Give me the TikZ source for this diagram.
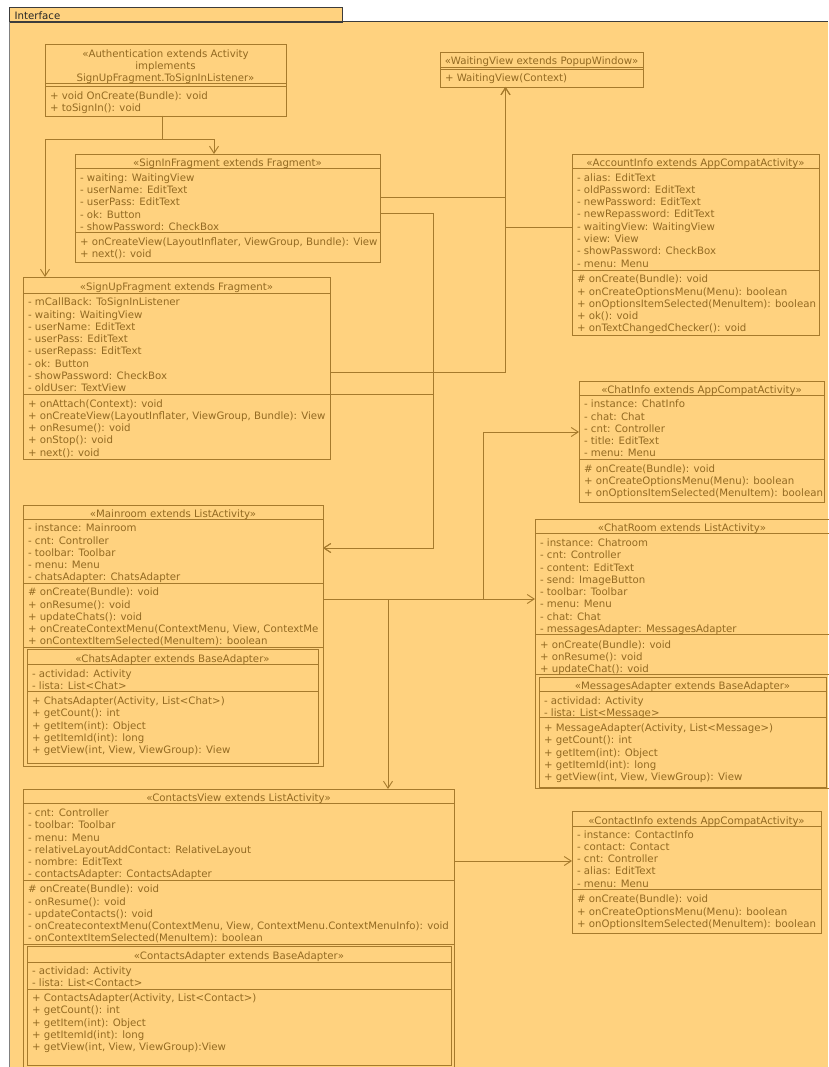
\documentclass[tikz,border=0pt]{standalone}
\usepackage{fontspec}
\setmainfont{DejaVu Sans}
\usetikzlibrary{arrows.meta}

\definecolor{umlfill}{HTML}{FFD27F}
\definecolor{umlline}{HTML}{A67A2C}
\definecolor{umltext}{HTML}{936A22}
\definecolor{framegray}{HTML}{808080}
\definecolor{framedark}{HTML}{3C3C3C}

\tikzset{
  clsbox/.style={draw=umlline, line width=0.9pt, inner sep=0pt, outer sep=0pt, anchor=north west},
  sepline/.style={draw=umlline, line width=0.9pt},
  txt/.style={text=umltext, font=\fontsize{10.2}{12.3}\selectfont, inner sep=0pt, outer sep=0pt, align=left, anchor=north west},
  ttl/.style={txt, align=center, anchor=north},
  assoc/.style={draw=umlline, line width=0.9pt, -{Straight Barb[length=7pt,width=9pt]}},
}

% class box: name, left, top, right, bottom
\newcommand\umlbox[5]{\node[clsbox, minimum width={#4pt-#2pt}, minimum height={#5pt-#3pt}] (#1) at (#2,#3) {};}
% compartment separator across a box at a given y
\newcommand\usep[2]{\draw[sepline] (#1.west |- 0,#2) -- (#1.east |- 0,#2);}
% centred title: name, centre x, first baseline, text
\newcommand\utitle[4]{\node[ttl] (#1) at (#2,#3-8.61) {\strut #4};}
% left aligned member lines: name, x, first baseline, text
\newcommand\ulines[4]{\node[txt] (#1) at (#2,#3-8.61) {\strut #4};}

\begin{document}
\begin{tikzpicture}[x=1pt,y=-1pt]
\useasboundingbox (0,0) rectangle (828,1067);

% package frame with its tab
\fill[umlfill] (9,22) rectangle (828,1067);
\node[draw=framedark, fill=umlfill, line width=0.8pt, inner sep=0pt, outer sep=0pt,
      minimum width=333pt, minimum height=15pt, anchor=north west] (tab) at (9,7) {};
\node[anchor=base west, inner sep=0pt, text=black!85, font=\fontsize{10.2}{12.3}\selectfont] (tablabel) at (14.5,19.5) {Interface};
\draw[framedark, line width=1pt] (9,22) -- (828,22);
\draw[framegray, line width=1.6pt] (9.6,22) -- (9.6,1067);

% Authentication
\umlbox{auth}{45}{44}{286}{116}
\usep{auth}{83}\usep{auth}{86}
\utitle{authT}{165.5}{57.4}{«Authentication extends Activity\\implements\\SignUpFragment.ToSignInListener»}
\ulines{authM}{50}{99.5}{+ void OnCreate(Bundle): void\\+ toSignIn(): void}

% WaitingView
\umlbox{waiting}{440}{52}{643}{87}
\usep{waiting}{67}\usep{waiting}{69.5}
\utitle{waitingT}{541.5}{64.5}{«WaitingView extends PopupWindow»}
\ulines{waitingM}{445}{81.5}{+ WaitingView(Context)}

% SignInFragment
\umlbox{signin}{75}{154}{380}{262}
\usep{signin}{168.3}\usep{signin}{232}
\utitle{signinT}{227.5}{166.6}{«SignInFragment extends Fragment»}
\ulines{signinA}{80}{181.4}{- waiting: WaitingView\\- userName: EditText\\- userPass: EditText\\- ok: Button\\- showPassword: CheckBox}
\ulines{signinM}{80}{245.4}{+ onCreateView(LayoutInflater, ViewGroup, Bundle): View\\+ next(): void}

% SignUpFragment
\umlbox{signup}{23}{277}{330}{459}
\usep{signup}{293}\usep{signup}{394}
\utitle{signupT}{176.5}{290.4}{«SignUpFragment extends Fragment»}
\ulines{signupA}{28}{305.7}{- mCallBack: ToSignInListener\\- waiting: WaitingView\\- userName: EditText\\- userPass: EditText\\- userRepass: EditText\\- ok: Button\\- showPassword: CheckBox\\- oldUser: TextView}
\ulines{signupM}{28}{407}{+ onAttach(Context): void\\+ onCreateView(LayoutInflater, ViewGroup, Bundle): View\\+ onResume(): void\\+ onStop(): void\\+ next(): void}

% AccountInfo
\umlbox{account}{572}{154}{819}{335}
\usep{account}{168}\usep{account}{270}
\utitle{accountT}{695.5}{166.6}{«AccountInfo extends AppCompatActivity»}
\ulines{accountA}{577}{181}{- alias: EditText\\- oldPassword: EditText\\- newPassword: EditText\\- newRepassword: EditText\\- waitingView: WaitingView\\- view: View\\- showPassword: CheckBox\\- menu: Menu}
\ulines{accountM}{577}{282.7}{\# onCreate(Bundle): void\\+ onCreateOptionsMenu(Menu): boolean\\+ onOptionsItemSelected(MenuItem): boolean\\+ ok(): void\\+ onTextChangedChecker(): void}

% ChatInfo
\umlbox{chatinfo}{579}{381}{824}{502}
\usep{chatinfo}{395}\usep{chatinfo}{459}
\utitle{chatinfoT}{701.5}{393}{«ChatInfo extends AppCompatActivity»}
\ulines{chatinfoA}{584}{407.7}{- instance: ChatInfo\\- chat: Chat\\- cnt: Controller\\- title: EditText\\- menu: Menu}
\ulines{chatinfoM}{584}{472}{\# onCreate(Bundle): void\\+ onCreateOptionsMenu(Menu): boolean\\+ onOptionsItemSelected(MenuItem): boolean}

% Mainroom with its nested ChatsAdapter
\umlbox{mainroom}{23}{505}{323}{766}
\usep{mainroom}{519}\usep{mainroom}{583}\usep{mainroom}{647}
\utitle{mainroomT}{173}{517.7}{«Mainroom extends ListActivity»}
\ulines{mainroomA}{28}{531.7}{- instance: Mainroom\\- cnt: Controller\\- toolbar: Toolbar\\- menu: Menu\\- chatsAdapter: ChatsAdapter}
\begin{scope}
  \clip (mainroom.north west) rectangle (mainroom.south east);
  \ulines{mainroomM}{28}{595.7}{\# onCreate(Bundle): void\\+ onResume(): void\\+ updateChats(): void\\+ onCreateContextMenu(ContextMenu, View, ContextMe\\+ onContextItemSelected(MenuItem): boolean}
\end{scope}
\umlbox{chatsad}{27}{649}{318}{763}
\usep{chatsad}{664}\usep{chatsad}{691}
\utitle{chatsadT}{172.5}{662.4}{«ChatsAdapter extends BaseAdapter»}
\ulines{chatsadA}{32}{677}{- actividad: Activity\\- lista: List<Chat>}
\ulines{chatsadM}{32}{704.4}{+ ChatsAdapter(Activity, List<Chat>)\\+ getCount(): int\\+ getItem(int): Object\\+ getItemId(int): long\\+ getView(int, View, ViewGroup): View}

% ChatRoom with its nested MessagesAdapter
\umlbox{chatroom}{535}{519}{829}{788}
\usep{chatroom}{533}\usep{chatroom}{634}\usep{chatroom}{674}
\utitle{chatroomT}{682}{531.7}{«ChatRoom extends ListActivity»}
\ulines{chatroomA}{540}{546.4}{- instance: Chatroom\\- cnt: Controller\\- content: EditText\\- send: ImageButton\\- toolbar: Toolbar\\- menu: Menu\\- chat: Chat\\- messagesAdapter: MessagesAdapter}
\ulines{chatroomM}{540}{648}{+ onCreate(Bundle): void\\+ onResume(): void\\+ updateChat(): void}
\umlbox{msgad}{539}{677}{826}{787}
\usep{msgad}{691}\usep{msgad}{717}
\utitle{msgadT}{682.5}{689.4}{«MessagesAdapter extends BaseAdapter»}
\ulines{msgadA}{544}{704.4}{- actividad: Activity\\- lista: List<Message>}
\ulines{msgadM}{544}{731.4}{+ MessageAdapter(Activity, List<Message>)\\+ getCount(): int\\+ getItem(int): Object\\+ getItemId(int): long\\+ getView(int, View, ViewGroup): View}

% ContactsView with its nested ContactsAdapter
\umlbox{contacts}{23}{789}{454}{1068}
\usep{contacts}{803}\usep{contacts}{880}\usep{contacts}{944}
\utitle{contactsT}{238.5}{801.4}{«ContactsView extends ListActivity»}
\ulines{contactsA}{28}{816.4}{- cnt: Controller\\- toolbar: Toolbar\\- menu: Menu\\- relativeLayoutAddContact: RelativeLayout\\- nombre: EditText\\- contactsAdapter: ContactsAdapter}
\ulines{contactsM}{28}{892.7}{\# onCreate(Bundle): void\\- onResume(): void\\- updateContacts(): void\\- onCreatecontextMenu(ContextMenu, View, ContextMenu.ContextMenuInfo): void\\- onContextItemSelected(MenuItem): boolean}
\umlbox{contad}{27}{946}{451}{1065}
\usep{contad}{962}\usep{contad}{989}
\utitle{contadT}{239}{959.7}{«ContactsAdapter extends BaseAdapter»}
\ulines{contadA}{32}{974.4}{- actividad: Activity\\- lista: List<Contact>}
\ulines{contadM}{32}{1001.4}{+ ContactsAdapter(Activity, List<Contact>)\\+ getCount(): int\\+ getItem(int): Object\\+ getItemId(int): long\\+ getView(int, View, ViewGroup):View}

% ContactInfo
\umlbox{contactinfo}{572}{811}{821}{933}
\usep{contactinfo}{826}\usep{contactinfo}{889}
\utitle{contactinfoT}{696.5}{824.4}{«ContactInfo extends AppCompatActivity»}
\ulines{contactinfoA}{577}{838}{- instance: ContactInfo\\- contact: Contact\\- cnt: Controller\\- alias: EditText\\- menu: Menu}
\ulines{contactinfoM}{577}{902.7}{\# onCreate(Bundle): void\\+ onCreateOptionsMenu(Menu): boolean\\+ onOptionsItemSelected(MenuItem): boolean}

% routing columns of the associations
\coordinate (cAuth) at (162,139);
\coordinate (cIn) at (214,0);
\coordinate (cUp) at (45,0);
\coordinate (cWait) at (505.5,0);
\coordinate (cMain) at (433,0);
\coordinate (cChat) at (483,0);
\coordinate (cCont) at (388,0);

% associations
\draw[assoc] (auth.south -| cAuth) -- (cAuth) -| (signin.north -| cIn);
\draw[assoc] (auth.south -| cAuth) -- (cAuth) -| (signup.north -| cUp);
\draw[assoc] (signin.east |- 0,197) -| (waiting.south -| cWait);
\draw[assoc] (account.west |- 0,227) -| (waiting.south -| cWait);
\draw[assoc] (signup.east |- 0,372) -| (waiting.south -| cWait);
\draw[assoc] (signin.east |- 0,213) -| (cMain |- 0,548) -- (mainroom.east |- 0,548);
\draw[assoc] (signup.east |- 0,394) -| (cMain |- 0,548) -- (mainroom.east |- 0,548);
\draw[assoc] (mainroom.east |- 0,599) -- (chatroom.west |- 0,599);
\draw[assoc] (mainroom.east |- 0,599) -| (cChat |- 0,432) -- (chatinfo.west |- 0,432);
\draw[assoc] (mainroom.east |- 0,599) -| (contacts.north -| cCont);
\draw[assoc] (contacts.east |- 0,861) -- (contactinfo.west |- 0,861);
\end{tikzpicture}
\end{document}
